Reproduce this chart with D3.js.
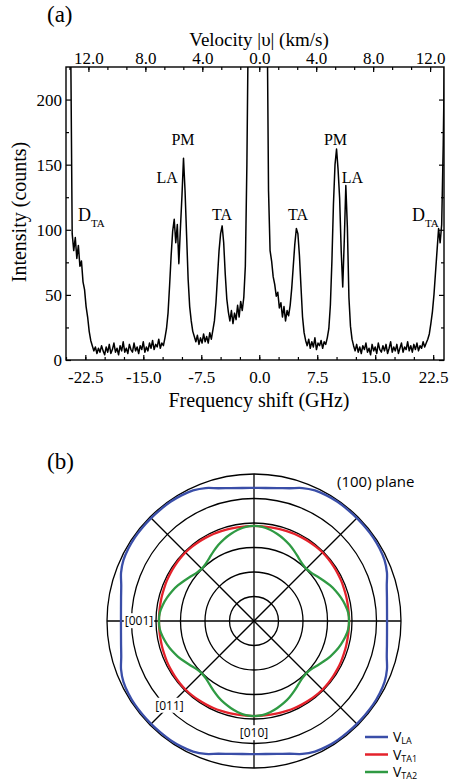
<!DOCTYPE html>
<html>
<head>
<meta charset="utf-8">
<script src="https://cdn.jsdelivr.net/npm/d3@7"></script>
<style>
body { margin: 0; background: #fff; }
svg { display: block; }
</style>
</head>
<body>
<script>
// (a) Brillouin spectrum: [frequency shift (GHz), intensity (counts)]
// values above 225 are off scale (clipped by the frame)
var spectrum = [
  [-25.0,320],[-24.8,300],[-24.6,280],[-24.4,250],[-24.2,97],[-24.0,84],[-23.8,94],[-23.6,78],[-23.4,88],[-23.2,72],
  [-23.0,76],[-22.8,60],[-22.6,54],[-22.4,41],[-22.2,33],[-22.0,22],[-21.8,15],[-21.6,11],[-21.4,7],[-21.2,10],
  [-21.0,5],[-20.8,9],[-20.6,6],[-20.4,11],[-20.2,7],[-20.0,4],[-19.8,10],[-19.6,6],[-19.4,12],[-19.2,5],
  [-19.0,8],[-18.8,13],[-18.6,6],[-18.4,9],[-18.2,4],[-18.0,11],[-17.8,7],[-17.6,14],[-17.4,6],[-17.2,9],
  [-17.0,5],[-16.8,12],[-16.6,8],[-16.4,6],[-16.2,13],[-16.0,7],[-15.8,10],[-15.6,5],[-15.4,11],[-15.2,8],
  [-15.0,14],[-14.8,6],[-14.6,10],[-14.4,7],[-14.2,13],[-14.0,9],[-13.8,15],[-13.6,8],[-13.4,12],[-13.2,10],
  [-13.0,16],[-12.8,9],[-12.6,13],[-12.4,11],[-12.2,17],[-12.0,24],[-11.8,36],[-11.6,57],[-11.4,80],[-11.2,99],
  [-11.0,108],[-10.8,90],[-10.6,104],[-10.4,74],[-10.2,101],[-10.0,126],[-9.8,155],[-9.6,130],[-9.4,96],[-9.2,62],
  [-9.0,41],[-8.8,30],[-8.6,22],[-8.4,18],[-8.2,14],[-8.0,19],[-7.8,12],[-7.6,17],[-7.4,13],[-7.2,20],
  [-7.0,14],[-6.8,18],[-6.6,13],[-6.4,21],[-6.2,16],[-6.0,23],[-5.8,30],[-5.6,44],[-5.4,64],[-5.2,84],
  [-5.0,97],[-4.8,103],[-4.6,90],[-4.4,66],[-4.2,47],[-4.0,37],[-3.8,30],[-3.6,38],[-3.4,28],[-3.2,36],
  [-3.0,31],[-2.8,42],[-2.6,33],[-2.4,45],[-2.2,38],[-2.0,48],[-1.8,72],[-1.6,150],[-1.4,270],[-1.2,400],
  [-1.0,400],[-0.8,400],[-0.6,400],[-0.4,400],[-0.2,400],[0.0,400],[0.2,400],[0.4,400],[0.6,400],[0.8,400],
  [1.0,280],[1.2,130],[1.4,84],[1.6,76],[1.8,64],[2.0,58],[2.2,49],[2.4,52],[2.6,40],[2.8,44],
  [3.0,33],[3.2,41],[3.4,30],[3.6,38],[3.8,34],[4.0,42],[4.2,55],[4.4,72],[4.6,89],[4.8,101],
  [5.0,97],[5.2,80],[5.4,56],[5.6,33],[5.8,21],[6.0,15],[6.2,11],[6.4,16],[6.6,9],[6.8,14],
  [7.0,10],[7.2,17],[7.4,8],[7.6,13],[7.8,11],[8.0,15],[8.2,9],[8.4,14],[8.6,12],[8.8,17],
  [9.0,24],[9.2,42],[9.4,76],[9.6,120],[9.8,150],[10.0,162],[10.2,146],[10.4,124],[10.6,84],[10.8,56],
  [11.0,92],[11.2,134],[11.4,102],[11.6,48],[11.8,26],[12.0,16],[12.2,11],[12.4,7],[12.6,12],[12.8,6],
  [13.0,10],[13.2,5],[13.4,11],[13.6,8],[13.8,13],[14.0,6],[14.2,9],[14.4,4],[14.6,12],[14.8,7],
  [15.0,10],[15.2,5],[15.4,13],[15.6,8],[15.8,6],[16.0,11],[16.2,7],[16.4,12],[16.6,5],[16.8,9],
  [17.0,14],[17.2,6],[17.4,10],[17.6,7],[17.8,12],[18.0,5],[18.2,9],[18.4,13],[18.6,6],[18.8,10],
  [19.0,8],[19.2,14],[19.4,7],[19.6,11],[19.8,6],[20.0,12],[20.2,8],[20.4,13],[20.6,7],[20.8,11],
  [21.0,9],[21.2,14],[21.4,10],[21.6,13],[21.8,16],[22.0,20],[22.2,28],[22.4,37],[22.6,50],[22.8,67],
  [23.0,84],[23.2,101],[23.4,90],[23.6,104],[23.8,165],[24.0,250]
];
var freqTicks = [-22.5, -15, -7.5, 0, 7.5, 15, 22.5];
var velTicks = [-12, -8, -4, 0, 4, 8, 12];
var countTicks = [0, 50, 100, 150, 200];
var KM_PER_GHZ = 12 / 22.1;   // velocity |v| per GHz of shift

// peak labels: [main, subscript, frequency, counts, anchor]
var peakLabels = [
  ["D", "TA", -23.45, 107, "start"],
  ["LA", "", -11.9, 136, "middle"],
  ["PM", "", -9.86, 165, "middle"],
  ["TA", "", -4.82, 107.5, "middle"],
  ["TA", "", 5.01, 107.5, "middle"],
  ["PM", "", 9.86, 165, "middle"],
  ["LA", "", 12.06, 136, "middle"],
  ["D", "TA", 19.76, 107, "start"]
];

// (b) velocity surfaces in the (100) plane, km/s, one quadrant 0..90 deg (step 5)
var polarAngles = [0,5,10,15,20,25,30,35,40,45,50,55,60,65,70,75,80,85,90];
var vLA  = [10.86,10.90,11.02,11.22,11.55,11.76,11.84,11.88,11.88,11.88,11.88,11.88,11.84,11.76,11.55,11.22,11.02,10.90,10.86];
var vTA1 = [7.76,7.76,7.77,7.79,7.81,7.84,7.86,7.88,7.90,7.91,7.90,7.88,7.86,7.84,7.81,7.79,7.77,7.76,7.76];
var vTA2 = [7.76,7.72,7.56,7.35,7.12,6.86,6.58,6.32,6.12,6.04,6.12,6.32,6.58,6.86,7.12,7.35,7.56,7.72,7.76];
var rings = [2, 4, 6, 8, 10, 12];
var seriesNames = [["V", "LA"], ["V", "TA1"], ["V", "TA2"]];
var seriesColors = ["#3a4ea8", "#e4222b", "#2f9a43"];
// direction labels: [text, angle deg (0 = left, 90 = down), radius km/s]
var dirLabels = [["[001]", 0, 9.39], ["[011]", 45, 9.76], ["[010]", 90, 9.14]];

var W = 449, H = 782;
var serif = "'Liberation Serif', 'Times New Roman', serif";
var sans = "'Open Sans', 'Liberation Sans', Arial, sans-serif";

var svg = d3.select("body").append("svg").attr("width", W).attr("height", H);

// ---------- panel (a) ----------
var x = d3.scaleLinear().domain([-25, 23.9]).range([66, 444]);
var xv = d3.scaleLinear().domain([-25 * KM_PER_GHZ, 23.9 * KM_PER_GHZ]).range([66, 444]);
var y = d3.scaleLinear().domain([0, 225]).range([360, 67]);

svg.append("text").attr("x", 47).attr("y", 22).attr("font-family", serif).attr("font-size", 23).text("(a)");

svg.append("clipPath").attr("id", "clipA").append("rect")
  .attr("x", 66).attr("y", 67).attr("width", 378).attr("height", 293);

svg.append("path").datum(spectrum)
  .attr("clip-path", "url(#clipA)")
  .attr("fill", "none").attr("stroke", "#000").attr("stroke-width", 1.5).attr("stroke-linejoin", "round")
  .attr("d", d3.line().x(function (d) { return x(d[0]); }).y(function (d) { return y(d[1]); }));

function styleAxis(g) {
  g.select(".domain").remove();
  g.attr("font-family", serif).attr("font-size", 17);
  g.selectAll("line").attr("stroke-width", 1.2);
  g.selectAll("text").attr("fill", "#000");
}

// bottom
svg.append("g").attr("transform", "translate(0,360)")
  .call(d3.axisBottom(x).tickValues(d3.range(-25, 24, 2.5)).tickSize(-3).tickFormat(""))
  .call(styleAxis);
svg.append("g").attr("transform", "translate(0,360)")
  .call(d3.axisBottom(x).tickValues(freqTicks).tickSize(-5).tickPadding(11)
    .tickFormat(function (d) { return d.toFixed(1); }))
  .call(styleAxis);
// top (velocity)
svg.append("g").attr("transform", "translate(0,67)")
  .call(d3.axisTop(xv).tickValues(d3.range(-40, 41).map(function (i) { return i * 4 / 3; })
    .filter(function (v) { return v > xv.domain()[0] && v < xv.domain()[1]; })).tickSize(-3).tickFormat(""))
  .call(styleAxis);
svg.append("g").attr("transform", "translate(0,67)")
  .call(d3.axisTop(xv).tickValues(velTicks).tickSize(-5).tickPadding(3)
    .tickFormat(function (d) { return Math.abs(d).toFixed(1); }))
  .call(styleAxis);
// left / right
svg.append("g").attr("transform", "translate(66,0)")
  .call(d3.axisLeft(y).tickValues(d3.range(25, 225, 50)).tickSize(-3).tickFormat(""))
  .call(styleAxis);
svg.append("g").attr("transform", "translate(66,0)")
  .call(d3.axisLeft(y).tickValues(countTicks).tickSize(-5).tickPadding(4))
  .call(styleAxis);
svg.append("g").attr("transform", "translate(444,0)")
  .call(d3.axisRight(y).tickValues(d3.range(25, 225, 50)).tickSize(-3).tickFormat(""))
  .call(styleAxis);
svg.append("g").attr("transform", "translate(444,0)")
  .call(d3.axisRight(y).tickValues(countTicks).tickSize(-5).tickFormat(""))
  .call(styleAxis);

svg.append("rect").attr("x", 66).attr("y", 67).attr("width", 378).attr("height", 293)
  .attr("fill", "none").attr("stroke", "#000").attr("stroke-width", 1.4);

svg.append("text").attr("x", 259).attr("y", 46).attr("text-anchor", "middle")
  .attr("font-family", serif).attr("font-size", 19).text("Velocity |υ| (km/s)");
svg.append("text").attr("x", 259).attr("y", 407).attr("text-anchor", "middle")
  .attr("font-family", serif).attr("font-size", 20).text("Frequency shift (GHz)");
svg.append("text").attr("transform", "translate(26,212) rotate(-90)").attr("text-anchor", "middle")
  .attr("font-family", serif).attr("font-size", 20).text("Intensity (counts)");

peakLabels.forEach(function (p) {
  var t = svg.append("text").attr("x", x(p[2])).attr("y", y(p[3]))
    .attr("text-anchor", p[4]).attr("font-family", serif).attr("font-size", p[1] ? 18 : 16);
  t.append("tspan").text(p[0]);
  if (p[1]) t.append("tspan").attr("dy", 6).attr("font-size", 11).text(p[1]);
});

// ---------- panel (b) ----------
var cx = 254, cy = 621;
var r = d3.scaleLinear().domain([0, 12]).range([0, 147]);
var gp = svg.append("g").attr("transform", "translate(" + cx + "," + cy + ")");

svg.append("text").attr("x", 47).attr("y", 469).attr("font-family", serif).attr("font-size", 23).text("(b)");

gp.selectAll("circle.ring").data(rings).enter().append("circle").attr("class", "ring")
  .attr("r", function (d) { return r(d); })
  .attr("fill", "none").attr("stroke", "#000").attr("stroke-width", 1.3);

[0, 45, 90, 135].forEach(function (a) {
  var t = a * Math.PI / 180, R = r(12);
  gp.append("line")
    .attr("x1", -R * Math.cos(t)).attr("y1", R * Math.sin(t))
    .attr("x2", R * Math.cos(t)).attr("y2", -R * Math.sin(t))
    .attr("stroke", "#000").attr("stroke-width", 1.3);
});

function fullCurve(vals) {
  var pts = [];
  for (var q = 0; q < 4; q++) {
    for (var i = 0; i < polarAngles.length - 1; i++) {
      pts.push({ a: (q * 90 + polarAngles[i]) * Math.PI / 180, v: vals[i] });
    }
  }
  return pts;
}
var polarLine = d3.line()
  .x(function (d) { return -r(d.v) * Math.cos(d.a); })
  .y(function (d) { return r(d.v) * Math.sin(d.a); })
  .curve(d3.curveCatmullRomClosed);

[vLA, vTA1, vTA2].forEach(function (vals, i) {
  gp.append("path").datum(fullCurve(vals))
    .attr("fill", "none").attr("stroke", seriesColors[i]).attr("stroke-width", 2.3)
    .attr("d", polarLine);
});

dirLabels.forEach(function (d) {
  var t = d[1] * Math.PI / 180;
  var px = -r(d[2]) * Math.cos(t), py = r(d[2]) * Math.sin(t);
  var txt = gp.append("text").attr("x", px).attr("y", py).attr("dy", "0.35em")
    .attr("text-anchor", "middle").attr("font-family", sans).attr("font-size", 12).text(d[0]);
  var bb = txt.node().getBBox();
  gp.insert("rect", function () { return txt.node(); })
    .attr("x", bb.x - 1).attr("y", bb.y + 1).attr("width", bb.width + 2).attr("height", bb.height - 2)
    .attr("fill", "#fff");
});

svg.append("text").attr("x", 337).attr("y", 487).attr("font-family", sans).attr("font-size", 15).text("(100) plane");

seriesNames.forEach(function (s, i) {
  var ly = 737 + i * 17.5;
  svg.append("line").attr("x1", 365).attr("x2", 388).attr("y1", ly).attr("y2", ly)
    .attr("stroke", seriesColors[i]).attr("stroke-width", 2.5);
  var t = svg.append("text").attr("x", 393).attr("y", ly + 5).attr("font-family", sans).attr("font-size", 14);
  t.append("tspan").text(s[0]);
  t.append("tspan").attr("dy", 2).attr("font-size", 9).text(s[1]);
});
</script>
</body>
</html>
